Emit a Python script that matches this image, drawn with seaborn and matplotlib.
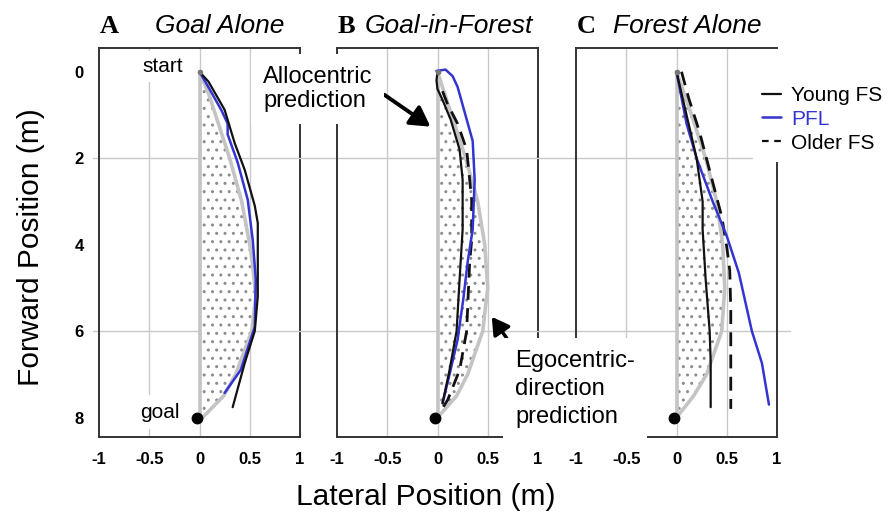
import numpy as np
import matplotlib
matplotlib.use("Agg")
import matplotlib.pyplot as plt
import seaborn as sns
from matplotlib.lines import Line2D

sns.set_style("white")
plt.rcParams['font.family'] = ['Liberation Sans', 'DejaVu Sans']
plt.rcParams['axes.unicode_minus'] = False
plt.rcParams['hatch.linewidth'] = 1.0
plt.rcParams['text.color'] = 'black'
plt.rcParams['xtick.color'] = 'black'
plt.rcParams['ytick.color'] = 'black'

# panel titles
letters = ["A", "B", "C"]
titles = ["Goal Alone", "Goal-in-Forest", "Forest Alone"]

# egocentric-direction prediction (right edge of dotted region)
ego_a_y = [0, 0.5, 1, 2, 3, 4, 4.5, 5.2, 6, 7, 7.5, 8]
ego_a_x = [0, 0.09, 0.16, 0.3, 0.42, 0.5, 0.53, 0.56, 0.52, 0.36, 0.24, 0.03]
ego_b_y = [0, 1, 2, 3, 4, 5, 6, 7, 7.5, 8]
ego_b_x = [0, 0.14, 0.28, 0.4, 0.47, 0.5, 0.45, 0.3, 0.19, 0.0]
ego_c_y = [0, 1, 2, 3, 4, 5, 6, 7, 7.5, 8]
ego_c_x = [0, 0.15, 0.29, 0.4, 0.46, 0.48, 0.45, 0.3, 0.17, 0.0]

# Young FS
young_a_y = [0, 0.23, 0.88, 1.65, 2.27, 3.1, 3.5, 4.2, 5.2, 6.0, 6.74, 7.76]
young_a_x = [0, 0.09, 0.25, 0.35, 0.45, 0.55, 0.58, 0.58, 0.58, 0.55, 0.45, 0.33]
young_b_y = [0, 0.2, 0.4, 0.65, 1.1, 1.8, 2.5, 3.65, 4.8, 6.0, 6.9, 7.67]
young_b_x = [0, -0.01, 0.0, 0.05, 0.13, 0.22, 0.25, 0.25, 0.22, 0.19, 0.12, 0.05]
young_c_y = [0, 1.0, 2.0, 3.0, 3.65, 4.8, 6.0, 6.7, 7.76]
young_c_x = [0, 0.1, 0.2, 0.26, 0.26, 0.29, 0.33, 0.34, 0.34]

# PFL
pfl_a_y = [0, 0.4, 0.9, 1.2, 1.45, 2.1, 2.96, 3.9, 4.8, 5.9, 6.9, 7.43]
pfl_a_x = [0, 0.1, 0.22, 0.28, 0.28, 0.38, 0.48, 0.53, 0.56, 0.55, 0.41, 0.25]
pfl_b_y = [0, -0.02, -0.05, 0.1, 0.35, 1.1, 1.6, 2.5, 3.65, 4.4, 5.2, 6.2, 7.1, 7.67]
pfl_b_x = [0, -0.01, 0.08, 0.15, 0.2, 0.29, 0.35, 0.37, 0.35, 0.3, 0.26, 0.2, 0.11, 0.05]
pfl_c_y = [0, 1.2, 2.0, 3.0, 3.8, 4.65, 6.0, 6.74, 7.7]
pfl_c_x = [0, 0.1, 0.2, 0.36, 0.5, 0.62, 0.75, 0.85, 0.92]

# Older FS (not shown in A)
older_b_y = [0.45, 0.75, 1.2, 1.8, 2.96, 3.9, 4.4, 6.0, 6.9, 7.6, 7.85]
older_b_x = [0.05, 0.1, 0.2, 0.29, 0.34, 0.34, 0.32, 0.29, 0.22, 0.1, 0.03]
older_c_y = [0, 0.6, 1.4, 2.2, 3.35, 4.05, 4.6, 5.5, 7.8]
older_c_x = [0.05, 0.12, 0.23, 0.32, 0.45, 0.5, 0.53, 0.54, 0.54]

goal = (-0.02, 8.0)
start = (0.0, 0.0)

blue = '#3434d0'
gray_line = '#c4c4c4'
grid_c = '#c9c9c9'

ego = [(ego_a_x, ego_a_y), (ego_b_x, ego_b_y), (ego_c_x, ego_c_y)]
young = [(young_a_x, young_a_y), (young_b_x, young_b_y), (young_c_x, young_c_y)]
pfl = [(pfl_a_x, pfl_a_y), (pfl_b_x, pfl_b_y), (pfl_c_x, pfl_c_y)]
older = [None, (older_b_x, older_b_y), (older_c_x, older_c_y)]

fig = plt.figure(figsize=(8.88, 5.17), dpi=100)
lefts = [99, 337, 576]
axes = []
for L in lefts:
    axes.append(fig.add_axes([L / 888, 80 / 517, 201 / 888, 389 / 517]))

# horizontal grid extents (axes fraction) per panel
hgrid = [[(2, -0.03, 1.0), (6, -0.03, 1.0)],
         [(2, -0.19, 1.0), (6, -0.19, 1.0)],
         [(2, -0.2, 0.876), (6, -0.2, 1.065)]]
title_x = [0.28, 0.14, 0.184]

for i, ax in enumerate(axes):
    ax.set_xlim(-1, 1)
    ax.set_ylim(8.45, -0.55)
    for xv in [-0.5, 0, 0.5]:
        ax.axvline(xv, color=grid_c, lw=1, zorder=0.5)
    for yv, x0, x1 in hgrid[i]:
        ax.axhline(yv, xmin=x0, xmax=x1, color=grid_c, lw=1, clip_on=False, zorder=0.5)

    ex, ey = ego[i]
    ax.fill_betweenx(ey, 0, ex, facecolor='white', hatch='..', edgecolor='#8c8c8c',
                     linewidth=0, zorder=1)
    sns.lineplot(x=ex, y=ey, sort=False, estimator=None, color=gray_line, lw=2.6, ax=ax, zorder=1.5)
    sns.lineplot(x=[0, 0], y=[0, 8], sort=False, estimator=None, color=gray_line, lw=2.6, ax=ax, zorder=1.5)

    if older[i] is not None:
        ox, oy = older[i]
        sns.lineplot(x=ox, y=oy, sort=False, estimator=None, color='#111111', lw=2,
                     linestyle=(0, (5, 3)), ax=ax, zorder=2)
    px, py = pfl[i]
    sns.lineplot(x=px, y=py, sort=False, estimator=None, color=blue, lw=1.8, ax=ax, zorder=2.1)
    yx, yy = young[i]
    sns.lineplot(x=yx, y=yy, sort=False, estimator=None, color='#111111', lw=1.6, ax=ax, zorder=2.2)

    ax.plot(*goal, marker='o', ms=7.5, color='black', zorder=3)
    ax.plot(*start, marker='o', ms=3, color='#777777', zorder=3)

    ax.set_xticks([-1, -0.5, 0, 0.5, 1])
    ax.set_xticklabels(["-1", "-0.5", "0", "0.5", "1"])
    ax.set_yticks([0, 2, 4, 6, 8])
    ax.tick_params(length=0, labelsize=12, pad=11)
    for lab in ax.get_xticklabels() + ax.get_yticklabels():
        lab.set_fontweight('bold')
    if i > 0:
        ax.set_yticklabels([])
    ax.set_xlabel("")
    ax.set_ylabel("")
    for sp in ax.spines.values():
        sp.set_visible(True)
        sp.set_color('#333333')
        sp.set_linewidth(1.4)

    ax.text(0.005, 1.038, letters[i], transform=ax.transAxes, fontfamily='Liberation Serif',
            fontweight='bold', fontsize=19, va='baseline', ha='left')
    ax.text(title_x[i], 1.038, titles[i], transform=ax.transAxes, style='italic',
            fontsize=19, va='baseline', ha='left')

axA, axB, axC = axes
axC.spines['right'].set_bounds(2.1, 8.45)

axA.text(-0.16, 0.0, "start", ha='right', va='baseline', fontsize=15,
         bbox=dict(boxstyle='square,pad=0.3', fc='white', ec='none'), zorder=4)
axA.text(-0.2, 8.0, "goal", ha='right', va='baseline', fontsize=15,
         bbox=dict(boxstyle='square,pad=0.35', fc='white', ec='none'), zorder=4)

axB.annotate("Allocentric\nprediction", xy=(-0.07, 1.27), xycoords='data',
             xytext=(263 / 888, 1 - 66 / 517), textcoords='figure fraction',
             ha='left', va='top', fontsize=17, linespacing=1.1,
             bbox=dict(boxstyle='square,pad=0.5', fc='white', ec='none'),
             arrowprops=dict(arrowstyle='-|>,head_length=0.7,head_width=0.4', color='black',
                             lw=2.8, relpos=(1.0, 0.55), shrinkA=0, shrinkB=0),
             annotation_clip=False, zorder=5)

axC.annotate("Egocentric-\ndirection\nprediction", xy=(0.54, 5.67), xycoords=axB.transData,
             xytext=(515 / 888, 1 - 350 / 517), textcoords='figure fraction',
             ha='left', va='top', fontsize=17, linespacing=1.35,
             bbox=dict(boxstyle='square,pad=0.5', fc='white', ec='none'),
             arrowprops=dict(arrowstyle='-|>,head_length=0.6,head_width=0.35', color='black',
                             lw=2.5, relpos=(0.0, 1.0), shrinkA=0, shrinkB=0),
             annotation_clip=False, zorder=5)

handles = [Line2D([], [], color='#111111', lw=1.6),
           Line2D([], [], color=blue, lw=1.8),
           Line2D([], [], color='#111111', lw=1.6, linestyle=(0, (3, 2.5)))]
leg = fig.legend(handles, ["Young FS", "PFL", "Older FS"], loc='upper left',
                 bbox_to_anchor=(762 / 888, 1 - 86 / 517), frameon=False, fontsize=15,
                 handlelength=0.9, handletextpad=0.5, labelspacing=0.23,
                 borderpad=0, borderaxespad=0)
leg.get_texts()[1].set_color(blue)

fig.text(426 / 888, 1 - 497 / 517, "Lateral Position (m)", ha='center', va='center', fontsize=21.5)
fig.text(31 / 888, 1 - 247 / 517, "Forward Position (m)", ha='center', va='center',
         rotation=90, fontsize=21.5)

fig.savefig("out.png", dpi=100)
